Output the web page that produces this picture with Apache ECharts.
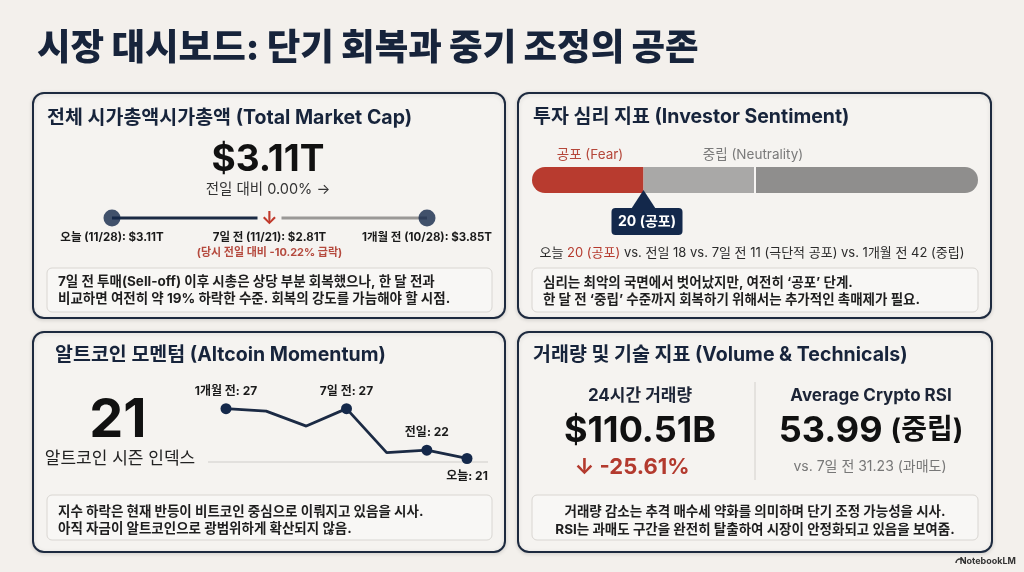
<!DOCTYPE html>
<html><head><meta charset="utf-8">
<script src="https://cdn.jsdelivr.net/npm/echarts@6/dist/echarts.min.js"></script>
<style>html,body{margin:0;padding:0;background:#f3f0ec}#c{width:1024px;height:572px}</style>
</head><body><div id="c"></div><script>
// ---------------- data ----------------
const capLabels = ['오늘 (11/28)', '7일 전 (11/21)', '1개월 전 (10/28)'];
const capValues = [3.11, 2.81, 3.85];            // $T
const capNow = 3.11, capDayChange = 0.00, capDropThen = -10.22;

const zoneNames = ['공포 (Fear)', '중립 하단', '중립 (Neutrality)'];
const zoneWidths = [25, 25, 50];                  // 0-100 scale
const sentimentToday = 20, sentimentPrev = 18, sentiment7d = 11, sentiment1m = 42;

const altCats = ['1개월 전', 'p2', 'p3', '7일 전', 'p5', '전일', '오늘'];
const altValues = [27, 26.7, 24.9, 27, 21.7, 22, 21];
const altLabels = ['1개월 전: 27', '', '', '7일 전: 27', '', '전일: 22', '오늘: 21'];
const altIndexNow = 21;

const volume24h = 110.51, volumeChange = -25.61;
const rsiNow = 53.99, rsi7d = 31.23;

// ---------------- style ----------------
const F = "Inter, 'Noto Sans CJK KR', sans-serif";
const NAVY = '#17243b', RED = '#b5392d';
const chart = echarts.init(document.getElementById('c'));

chart.setOption({
  backgroundColor: '#f3f0ec',
  animation: false,
  grid: [
    { left: 112, top: 210, width: 315, height: 16 },
    { left: 532, top: 167, width: 446, height: 26 },
    { left: 226, top: 383.7, width: 241, height: 83.1 }
  ],
  xAxis: [
    { gridIndex: 0, type: 'category', data: capLabels, boundaryGap: false, show: false },
    { gridIndex: 1, type: 'value', min: 0, max: 100, show: false },
    { gridIndex: 2, type: 'category', data: altCats, boundaryGap: false, show: false }
  ],
  yAxis: [
    { gridIndex: 0, type: 'value', min: 0, max: 1, show: false },
    { gridIndex: 1, type: 'category', data: ['s'], show: false },
    { gridIndex: 2, type: 'value', min: 20, max: 30, show: false }
  ],
  series: [
    { type: 'scatter', xAxisIndex: 0, yAxisIndex: 0, z: 5,
      data: capValues.map((v, i) => ({ value: [i, 0.5], symbolSize: i === 1 ? 0 : 17 })),
      itemStyle: { color: '#14284a' }, silent: true },
    { type: 'bar', xAxisIndex: 1, yAxisIndex: 1, stack: 's', barWidth: '100%', data: [zoneWidths[0]],
      itemStyle: { color: '#b83b2f', borderRadius: [13, 0, 0, 13] }, silent: true },
    { type: 'bar', xAxisIndex: 1, yAxisIndex: 1, stack: 's', barWidth: '100%', data: [zoneWidths[1]],
      itemStyle: { color: '#a9a8a7' }, silent: true },
    { type: 'bar', xAxisIndex: 1, yAxisIndex: 1, stack: 's', barWidth: '100%', data: [zoneWidths[2]],
      itemStyle: { color: '#8f8e8d', borderRadius: [0, 13, 13, 0] }, silent: true,
      markLine: { silent: true, symbol: 'none', label: { show: false },
        lineStyle: { color: '#f6f4f2', width: 2, type: 'solid' },
        data: [{ xAxis: zoneWidths[0] + zoneWidths[1] }] } },
    { type: 'line', xAxisIndex: 2, yAxisIndex: 2, z: 5,
      lineStyle: { color: '#1b2a44', width: 2.8 }, itemStyle: { color: '#14284a' },
      symbol: 'circle', showAllSymbol: true,
      data: altValues.map((v, i) => ({
        value: v,
        symbolSize: altLabels[i] ? 11 : 0,
        label: {
          show: !!altLabels[i], formatter: altLabels[i],
          position: i === altValues.length - 1 ? 'bottom' : 'top', distance: 6,
          color: '#1a1a1a', fontFamily: F, fontWeight: 'bold', fontSize: 12
        }
      })), silent: true }
  ]
});

// ---------------- graphics ----------------
function T(x, y, text, font, fill, align, extra) {
  return Object.assign({ type: 'text', x, y, z: 50, silent: true,
    style: { text, font, fill, align: align || 'left', verticalAlign: 'middle', textAlign: align || 'left', textVerticalAlign: 'middle' } }, extra || {});
}
function panel(x, y, w, h) {
  return { type: 'rect', z: 0, silent: true, shape: { x, y, width: w, height: h, r: 11 },
    style: { fill: '#f5f3f0', stroke: '#1d2a3f', lineWidth: 2, shadowBlur: 4, shadowColor: 'rgba(0,0,0,0.12)', shadowOffsetY: 1 } };
}
function note(x, y, w, h) {
  return { type: 'rect', z: 1, silent: true, shape: { x, y, width: w, height: h, r: 5 },
    style: { fill: '#f8f7f5', stroke: '#d9d6d2', lineWidth: 1 } };
}
const g = [];
g.push(T(37, 49, '시장 대시보드: 단기 회복과 중기 조정의 공존', `900 36.5px ${F}`, NAVY));
g.push(panel(33, 93, 472, 225), panel(518, 93, 473, 225), panel(33, 332, 472, 220), panel(518, 332, 474, 220));
g.push(note(47, 268, 445, 44), note(532, 268, 446, 44), note(47, 495, 445, 45), note(532, 495, 446, 45));

// panel titles
const PT = `bold 19.5px ${F}`;
g.push(T(47, 118, '전체 시가총액시가총액 (Total Market Cap)', PT, NAVY));
g.push(T(533, 117, '투자 심리 지표 (Investor Sentiment)', PT, NAVY));
g.push(T(55, 355, '알트코인 모멘텀 (Altcoin Momentum)', PT, NAVY));
g.push(T(533, 355, '거래량 및 기술 지표 (Volume & Technicals)', PT, NAVY));

// panel 1
g.push(T(268, 160, '$' + capNow.toFixed(2) + 'T', `bold 37px ${F}`, '#111', 'center'));
g.push(T(268, 190, '전일 대비 ' + capDayChange.toFixed(2) + '% →', `14.5px ${F}`, '#333', 'center'));
const p0 = chart.convertToPixel({ gridIndex: 0 }, [0, 0.5]);
const p1 = chart.convertToPixel({ gridIndex: 0 }, [1, 0.5]);
const p2 = chart.convertToPixel({ gridIndex: 0 }, [2, 0.5]);
g.push({ type: 'line', z: 3, silent: true, shape: { x1: p0[0], y1: p0[1], x2: p1[0] - 12, y2: p1[1] }, style: { stroke: '#1b2a44', lineWidth: 3 } });
g.push({ type: 'line', z: 3, silent: true, shape: { x1: p1[0] + 12, y1: p1[1], x2: p2[0], y2: p2[1] }, style: { stroke: '#9a9896', lineWidth: 3 } });
g.push(T(p1[0], p1[1] + 1, '↓', `bold 18px ${F}`, '#c0392b', 'center'));
const LB = `bold 11.5px ${F}`;
[p0, p1, p2].forEach((p, i) => g.push(T(p[0], p[1] + 20, capLabels[i] + ': $' + capValues[i].toFixed(2) + 'T', LB, '#1a1a1a', 'center')));
g.push(T(p1[0], p1[1] + 35, '(당시 전일 대비 ' + capDropThen.toFixed(2) + '% 급락)', `bold 11px ${F}`, '#b54a3e', 'center'));
const NT = `bold 13.5px ${F}`;
const NC = '#1e1e1e';
g.push(T(58, 282, '7일 전 투매(Sell-off) 이후 시총은 상당 부분 회복했으나, 한 달 전과', NT, NC));
g.push(T(58, 299, '비교하면 여전히 약 19% 하락한 수준. 회복의 강도를 가늠해야 할 시점.', NT, NC));

// panel 2
g.push(T(590, 155, zoneNames[0], `13.5px ${F}`, '#b5473a', 'center'));
g.push(T(753, 155, zoneNames[2], `13.5px ${F}`, '#7a7a7a', 'center'));
const sp = chart.convertToPixel({ xAxisIndex: 1, yAxisIndex: 1 }, [zoneWidths[0], 's']);
g.push({ type: 'polygon', z: 20, silent: true, shape: { points: [[sp[0] - 13, 210], [sp[0], 190], [sp[0] + 13, 210]] }, style: { fill: '#13284b' } });
g.push({ type: 'rect', z: 20, silent: true, shape: { x: sp[0] - 32, y: 208, width: 71, height: 27, r: 4 }, style: { fill: '#13284b' } });
g.push(T(sp[0] + 3.5, 222, sentimentToday + ' (공포)', `bold 14px ${F}`, '#fff', 'center', { z: 21 }));
g.push({ type: 'text', x: 752, y: 253, z: 50, silent: true, style: {
  text: '오늘 {r|' + sentimentToday + ' (공포)} vs. 전일 ' + sentimentPrev + ' vs. 7일 전 ' + sentiment7d + ' (극단적 공포) vs. 1개월 전 ' + sentiment1m + ' (중립)',
  font: `13px ${F}`, fill: '#2a2a2a', align: 'center', verticalAlign: 'middle',
  rich: { r: { font: `13px ${F}`, fill: '#b5392d' } } } });
g.push(T(543, 283, '심리는 최악의 국면에서 벗어났지만, 여전히 ‘공포’ 단계.', NT, NC));
g.push(T(543, 300, '한 달 전 ‘중립’ 수준까지 회복하기 위해서는 추가적인 촉매제가 필요.', NT, NC));

// panel 3
g.push(T(118, 421, String(altIndexNow), `bold 54px ${F}`, '#111', 'center'));
g.push(T(120, 459, '알트코인 시즌 인덱스', `17px ${F}`, '#222', 'center'));
g.push({ type: 'line', z: 1, silent: true, shape: { x1: 208, y1: 462, x2: 488, y2: 462 }, style: { stroke: '#cfcdca', lineWidth: 1 } });
g.push(T(58, 512, '지수 하락은 현재 반등이 비트코인 중심으로 이뤄지고 있음을 시사.', NT, NC));
g.push(T(58, 529, '아직 자금이 알트코인으로 광범위하게 확산되지 않음.', NT, NC));

// panel 4
g.push(T(640, 396, '24시간 거래량', `bold 17px ${F}`, '#1c2436', 'center'));
g.push(T(640, 431, '$' + volume24h.toFixed(2) + 'B', `bold 36px ${F}`, '#111', 'center'));
g.push(T(632, 467, '↓ ' + volumeChange.toFixed(2) + '%', `bold 22px ${F}`, '#b33a2e', 'center'));
g.push({ type: 'line', z: 1, silent: true, shape: { x1: 755, y1: 382, x2: 755, y2: 480 }, style: { stroke: '#d3d0cc', lineWidth: 1 } });
g.push(T(871, 396, 'Average Crypto RSI', `bold 17px ${F}`, '#1c2436', 'center'));
g.push({ type: 'text', x: 871, y: 431, z: 50, silent: true, style: {
  text: '{a|' + rsiNow.toFixed(2) + '}{s| }{b|(중립)}', align: 'center', verticalAlign: 'middle',
  rich: { a: { font: `bold 36px ${F}`, fill: '#111' }, s: { font: `10px ${F}`, width: 8 }, b: { font: `bold 28px ${F}`, fill: '#111' } } } });
g.push(T(870, 467, 'vs. 7일 전 ' + rsi7d.toFixed(2) + ' (과매도)', `14px ${F}`, '#777', 'center'));
g.push(T(755, 512, '거래량 감소는 추격 매수세 약화를 의미하며 단기 조정 가능성을 시사.', NT, NC, 'center'));
g.push(T(755, 530, 'RSI는 과매도 구간을 완전히 탈출하여 시장이 안정화되고 있음을 보여줌.', NT, NC, 'center'));

// footer
g.push(T(1016, 561, 'NotebookLM', `bold 9px ${F}`, '#333', 'right'));
g.push({ type: 'arc', z: 50, silent: true, shape: { cx: 960, cy: 563, r: 4, startAngle: Math.PI, endAngle: 2 * Math.PI }, style: { stroke: '#333', lineWidth: 1.5, fill: 'none' } });

chart.setOption({ graphic: g });
</script></body></html>
